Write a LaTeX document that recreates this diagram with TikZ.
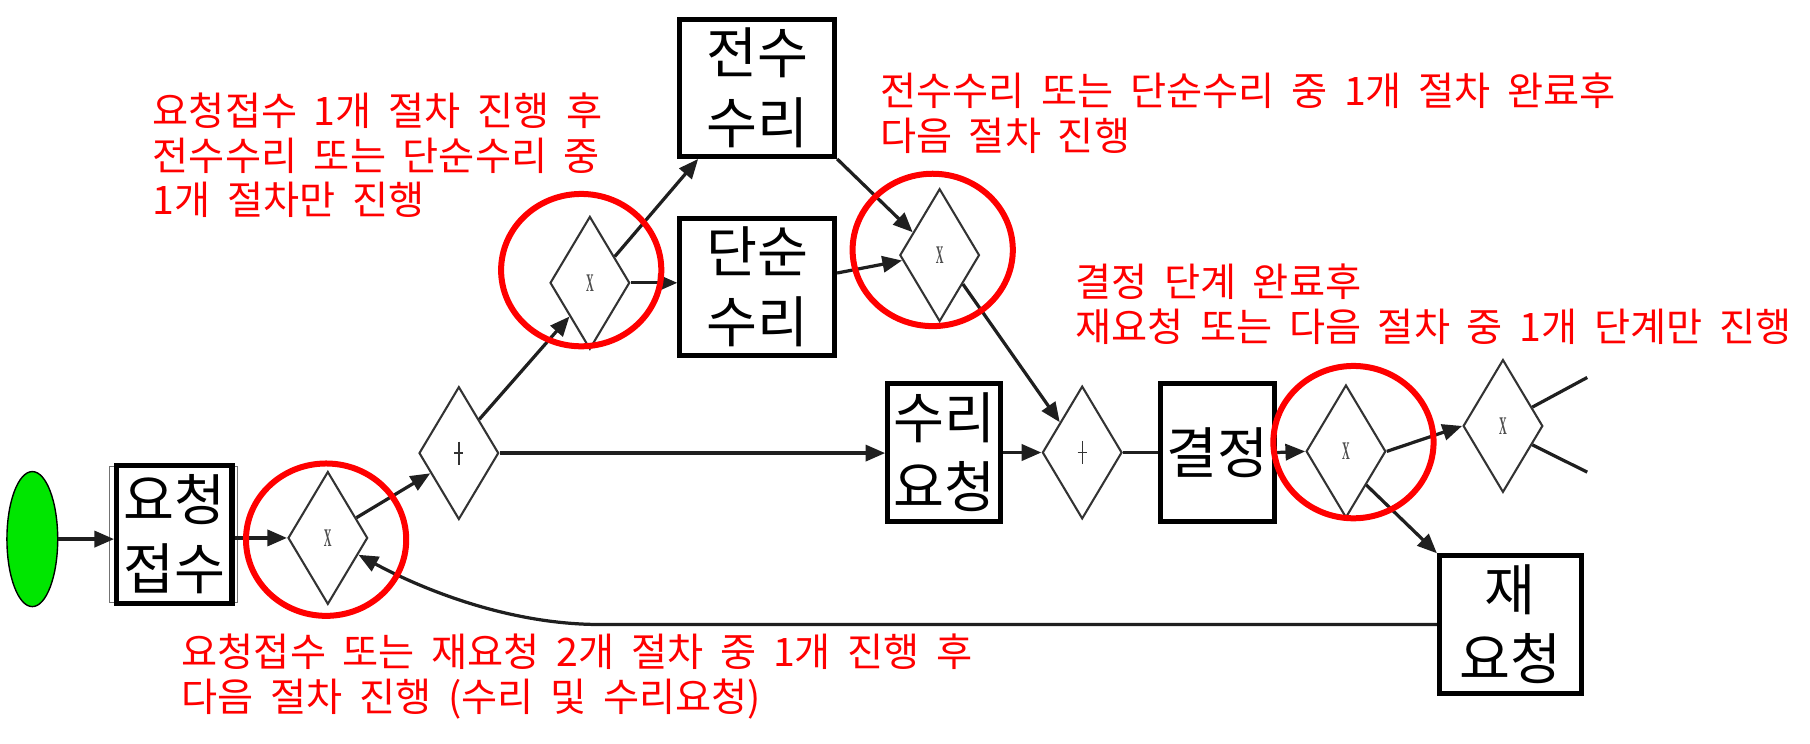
\documentclass[tikz,border=0pt]{standalone}
\usepackage{fontspec}
\setmainfont{Noto Sans CJK KR}
\newfontfamily\notefont{Noto Sans CJK KR}[WordSpace=1.9]
\newfontfamily\serifx{Liberation Serif}
\usetikzlibrary{shapes.geometric,arrows.meta,calc}
\definecolor{startgreen}{RGB}{0,230,0}
\begin{document}
\begin{tikzpicture}[x=0.5pt,y=-0.5pt,
  gate/.style={diamond, draw=black!80, line width=0.9pt, minimum width=34.5pt, minimum height=57.5pt, inner sep=0pt},
  xgate/.style={gate, path picture={\node[font=\serifx\bfseries\fontsize{11}{11}\selectfont, text=black!70, inner sep=0pt] at (path picture bounding box.center) {\scalebox{0.42}[1]{X}};}},
  pgate/.style={gate, path picture={\draw[line width=0.6pt, black!80] ($(path picture bounding box.center)+(0,-10)$) -- ($(path picture bounding box.center)+(0,10)$) ($(path picture bounding box.center)+(-4,0)$) -- ($(path picture bounding box.center)+(4,0)$);}},
  task/.style={rectangle, draw=black, line width=2.2pt, minimum height=59.5pt, inner sep=0pt, align=center, font=\fontsize{24}{30}\selectfont},
  flow/.style={line width=1.4pt, draw=black!88},
  arr/.style={flow, -{Triangle[length=8.5pt,width=7pt]}},
  hl/.style={draw=red, line width=2.6pt},
  note/.style={text=red, font=\notefont\fontsize{17}{19.25}\selectfont, align=left, inner sep=0pt, anchor=west},
]
\useasboundingbox (0,0) rectangle (1568,644.5);

% nodes
\node[ellipse, draw=black, line width=0.6pt, fill=startgreen, minimum width=22pt, minimum height=58.5pt] (start) at (28,467) {};
\draw[black!55, line width=0.5pt] (95,404) rectangle (206,522);
\node[task, minimum width=50pt] (req) at (151,463) {요청\\접수};
\node[xgate] (x1) at (284,466) {};
\node[pgate] (p1) at (397.5,392.5) {};
\node[xgate] (x2) at (511,245) {};
\node[task, minimum width=67pt] (jeon) at (656,76) {전수\\수리};
\node[task, minimum width=67pt] (dan) at (656,248.5) {단순\\수리};
\node[xgate] (x3) at (814,221) {};
\node[task, minimum width=49pt] (sur) at (818,392) {수리\\요청};
\node[pgate] (p2) at (937.5,392) {};
\node[task, minimum width=49.5pt] (gyeol) at (1054.5,392) {결정};
\node[xgate] (x4) at (1166,391) {};
\node[xgate] (x5) at (1302,369) {};
\node[task, minimum width=61.5pt] (re) at (1308.5,541) {재\\요청};

% connectors
\draw[arr] (start.east) -- (start.east -| req.west);
\draw[arr] (x1.west -| req.east) -- (x1.west);
\draw[arr] ($(x1.east)!0.3!(x1.north)$) -- ($(p1.west)!0.3!(p1.south)$);
\draw[arr] (p1.north east) -- (x2.south west);
\draw[arr] ($(x2.east)!0.39!(x2.north)$) -- ($(jeon.south west)+(18,0)$);
\draw[arr] (x2.east) -- (x2.east -| dan.west);
\draw[arr] (jeon.south east) -- ($(x3.west)!0.34!(x3.north)$);
\draw[arr] ($(dan.east)+(0,-12)$) -- ($(x3.west)!0.08!(x3.south)$);
\draw[arr] ($(x3.east)!0.43!(x3.south)$) -- ($(p2.west)!0.45!(p2.north)$);
\draw[arr] (p1.east) -- (p1.east -| sur.west);
\draw[arr] (sur.east) -- (p2.west);
\draw[flow] (p2.east) -- (p2.east -| gyeol.west);
\draw[arr] (gyeol.east) -- (x4.west);
\draw[arr] (x4.east) -- (x5.west);
\draw[arr] (x4.south east) -- (re.north west);
\coordinate (o1) at (1375,327);
\coordinate (o2) at (1375,409);
\draw[flow] ($(x5.east)!0.28!(x5.north)$) -- (o1);
\draw[flow] ($(x5.east)!0.28!(x5.south)$) -- (o2);
\coordinate (lp) at (520,541);
\draw[arr] (re.west) -- (lp) .. controls (430,541) and (350,502) .. ($(x1.east)!0.25!(x1.south)$);

% highlight circles
\draw[hl] (282.5,467.5) ellipse [x radius=34.7pt, y radius=33pt];
\draw[hl] (503.5,234) ellipse [x radius=34.7pt, y radius=33pt];
\draw[hl] (808,216.5) ellipse [x radius=34.7pt, y radius=33pt];
\draw[hl] (1172.5,383) ellipse [x radius=34.7pt, y radius=33pt];

% notes
\node[note] (n1) at (132,134.5) {요청접수 1개 절차 진행 후\\전수수리 또는 단순수리 중\\1개 절차만 진행};
\node[note] (n2) at (762,98) {전수수리 또는 단순수리 중 1개 절차 완료후\\다음 절차 진행};
\node[note] (n3) at (931,263.5) {결정 단계 완료후\\재요청 또는 다음 절차 중 1개 단계만 진행};
\node[note] (n4) at (157,586) {요청접수 또는 재요청 2개 절차 중 1개 진행 후\\다음 절차 진행 (수리 및 수리요청)};
\end{tikzpicture}
\end{document}
